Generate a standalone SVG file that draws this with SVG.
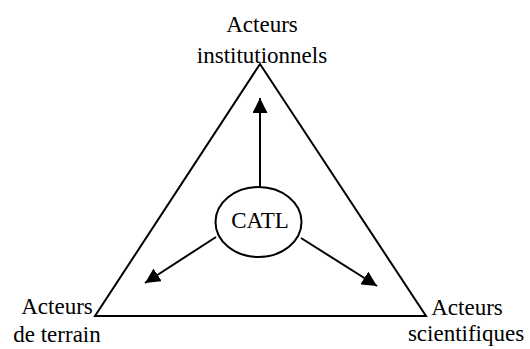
<svg xmlns="http://www.w3.org/2000/svg" width="530" height="349" viewBox="0 0 530 349">
<defs>
<style>
.t{font-family:"Liberation Serif","Times New Roman",serif;font-size:23px;fill:#000;text-anchor:middle}
.s{fill:none;stroke:#000;stroke-width:2}
</style>
<marker id="ah" markerWidth="15" markerHeight="15" refX="15" refY="7.5" orient="auto" markerUnits="userSpaceOnUse" viewBox="0 0 15 15">
<path d="M0,0 L15,7.5 L0,15 z" fill="#000"/>
</marker>
</defs>
<rect width="530" height="349" fill="#fff"/>
<g id="triangle"><polygon class="s" points="260,64 95,316 426,316"/></g>
<g id="connectors">
<line class="s" x1="260" y1="187" x2="260" y2="98" marker-end="url(#ah)"/>
<line class="s" x1="216" y1="237" x2="145" y2="283" marker-end="url(#ah)"/>
<line class="s" x1="301" y1="238" x2="377" y2="286" marker-end="url(#ah)"/>
</g>
<g id="catl">
<ellipse class="s" cx="258.5" cy="222" rx="43" ry="35"/>
<text class="t" x="260" y="228">CATL</text>
</g>
<g id="institutionnels">
<text class="t" x="262" y="32">Acteurs</text>
<text class="t" x="262" y="63">institutionnels</text>
</g>
<g id="terrain">
<text class="t" x="57" y="314">Acteurs</text>
<text class="t" x="57" y="342">de terrain</text>
</g>
<g id="scientifiques">
<text class="t" x="467" y="315">Acteurs</text>
<text class="t" x="466" y="341">scientifiques</text>
</g>
</svg>
